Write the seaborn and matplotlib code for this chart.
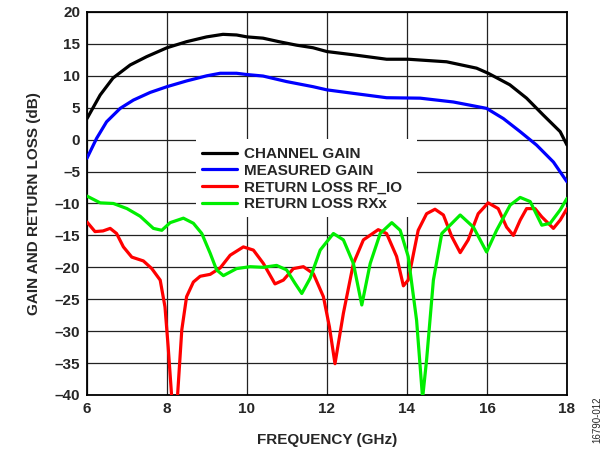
import numpy as np
import pandas as pd
import matplotlib
matplotlib.use("Agg")
import matplotlib.pyplot as plt
from matplotlib.patches import Rectangle
import seaborn as sns

# Frequency sweep (GHz) and responses (dB)
cg_freq = [6.0, 6.33, 6.65, 7.08, 7.49, 8.0, 8.49, 8.99, 9.4, 9.74, 10.0, 10.4, 10.8,
           11.24, 11.65, 12.0, 12.65, 13.49, 14.03, 14.99, 15.74, 16.03, 16.57, 16.99,
           17.4, 17.83, 18.0]
cg_db = [3.3, 7.0, 9.65, 11.7, 13.0, 14.4, 15.35, 16.1, 16.5, 16.4, 16.1, 15.9, 15.35,
         14.8, 14.4, 13.8, 13.3, 12.6, 12.6, 12.2, 11.2, 10.4, 8.6, 6.5,
         3.9, 1.25, -0.85]

mg_freq = [6.0, 6.24, 6.49, 6.83, 7.16, 7.58, 8.0, 8.49, 8.99, 9.33, 9.74, 10.0, 10.4,
           10.99, 11.65, 12.0, 12.65, 13.49, 14.33, 15.16, 15.99, 16.41, 16.83, 17.24,
           17.66, 18.0]
mg_db = [-2.9, 0.2, 2.8, 4.9, 6.2, 7.4, 8.3, 9.2, 10.0, 10.4, 10.4, 10.2, 9.97,
         9.1, 8.3, 7.8, 7.26, 6.57, 6.5, 5.9, 4.9, 3.3, 1.25, -0.85,
         -3.5, -6.6]

rf_freq = [6.0, 6.2, 6.4, 6.58, 6.74, 6.91, 7.12, 7.41, 7.62, 7.83, 7.95, 8.03, 8.12,
           8.19, 8.26, 8.37, 8.49, 8.66, 8.83, 9.08, 9.33, 9.58, 9.91, 10.16, 10.41,
           10.7, 10.91, 11.16, 11.41, 11.66, 11.91, 12.06, 12.2, 12.41, 12.66, 12.91,
           13.28, 13.49, 13.74, 13.91, 14.03, 14.28, 14.49, 14.7, 14.91, 15.12, 15.33,
           15.53, 15.78, 16.03, 16.28, 16.49, 16.66, 16.83, 16.99, 17.2, 17.37, 17.66,
           17.83, 18.0]
rf_db = [-12.9, -14.4, -14.3, -13.9, -14.7, -16.8, -18.4, -19.0, -20.2, -22.0, -26.2,
         -32.5, -40.5, -43.0, -40.5, -29.8, -24.6, -22.3, -21.4, -21.1, -20.1, -18.1,
         -16.8, -17.3, -19.4, -22.6, -22.0, -20.2, -19.9, -21.0, -24.6, -29.3, -35.1,
         -27.2, -19.4, -15.7, -14.1, -14.7, -18.3, -22.9, -22.0, -14.2, -11.6, -10.9,
         -11.8, -15.2, -17.7, -15.7, -11.6, -9.9, -10.8, -13.7, -15.0, -12.6, -10.8,
         -10.8, -12.1, -13.9, -12.6, -10.8]

rx_freq = [6.0, 6.33, 6.66, 7.0, 7.33, 7.66, 7.87, 8.08, 8.41, 8.66, 8.87, 9.08, 9.24,
           9.41, 9.74, 10.08, 10.41, 10.74, 10.99, 11.2, 11.37, 11.58, 11.83, 12.16,
           12.41, 12.66, 12.87, 13.08, 13.33, 13.62, 13.83, 14.03, 14.24, 14.39, 14.49,
           14.66, 14.87, 15.33, 15.66, 15.99, 16.24, 16.58, 16.83, 17.08, 17.37, 17.58,
           17.83, 18.0]
rx_db = [-8.84, -9.9, -10.0, -10.8, -12.0, -13.9, -14.2, -13.0, -12.3, -13.1, -14.7,
         -17.8, -20.4, -21.3, -20.2, -19.9, -20.0, -19.7, -20.4, -22.5, -24.1, -21.7,
         -17.3, -14.7, -15.7, -19.4, -25.9, -19.4, -14.7, -13.0, -14.2, -18.3, -28.3,
         -40.5, -34.5, -22.0, -14.7, -11.8, -13.7, -17.6, -14.2, -10.25, -9.05, -9.7,
         -13.4, -13.1, -11.0, -9.2]

series_labels = ["CHANNEL GAIN", "MEASURED GAIN", "RETURN LOSS RF_IO", "RETURN LOSS RXx"]
series_colors = ["#000000", "#0000ff", "#ff0000", "#00ee00"]
x_ticks = [6, 8, 10, 12, 14, 16, 18]
y_ticks = list(range(-40, 25, 5))

sns.set_style("white")
plt.rcParams["font.family"] = ["Liberation Sans", "DejaVu Sans"]

fig = plt.figure(figsize=(6.10, 4.51), dpi=100)
ax = fig.add_axes([0.1426, 0.1242, 0.7869, 0.8492])

frames = [
    pd.DataFrame({"freq": cg_freq, "db": cg_db}),
    pd.DataFrame({"freq": mg_freq, "db": mg_db}),
    pd.DataFrame({"freq": rf_freq, "db": rf_db}),
    pd.DataFrame({"freq": rx_freq, "db": rx_db}),
]
for df, lab, col in zip(frames, series_labels, series_colors):
    sns.lineplot(data=df, x="freq", y="db", ax=ax, color=col, lw=2.3,
                 label=lab, sort=False, zorder=3)

ax.set_xlim(6, 18)
ax.set_ylim(-40, 20)
ax.set_xticks(x_ticks)
ax.set_yticks(y_ticks)
ax.set_yticklabels([f"{v}".replace("-", "\u2013") for v in y_ticks])
ax.grid(True, color="#222222", lw=0.9, zorder=1)
ax.set_axisbelow(True)
ax.tick_params(length=0, pad=5, labelsize=11)
for lbl in ax.get_xticklabels() + ax.get_yticklabels():
    lbl.set_fontweight("bold")
for sp in ax.spines.values():
    sp.set_color("#000000")
    sp.set_linewidth(1.3)

ax.set_xlabel("FREQUENCY (GHz)", fontsize=11, fontweight="bold", labelpad=12)
ax.set_ylabel("GAIN AND RETURN LOSS (dB)", fontsize=11, fontweight="bold", labelpad=10)

# white panel behind the legend, hiding the grid
ax.add_patch(Rectangle((0.227, 0.465), 0.4605, 0.203, transform=ax.transAxes,
                       facecolor="white", edgecolor="none", zorder=2))

leg = ax.legend(loc="upper left", bbox_to_anchor=(0.2396, 0.647), frameon=False,
                handlelength=2.3, handletextpad=0.45, labelspacing=0.17,
                borderpad=0, borderaxespad=0,
                prop={"weight": "bold", "size": 11})
leg.set_zorder(5)

fig.text(0.979, 0.069, "16790-012", rotation=90, fontsize=7, ha="center", va="center")

fig.savefig("out.png", dpi=100)
